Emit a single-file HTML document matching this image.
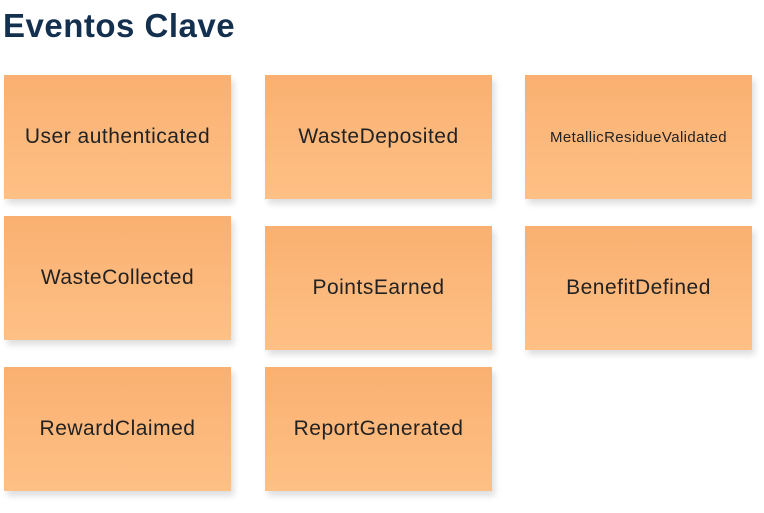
<!DOCTYPE html>
<html><head><meta charset="utf-8"><style>
html,body{margin:0;padding:0;background:#fff;width:764px;height:513px;overflow:hidden;font-family:"Liberation Sans",sans-serif}
h1{position:absolute;left:3px;top:7px;margin:0;font-size:33px;font-weight:bold;color:#14304f;letter-spacing:0.5px}
.note{position:absolute;width:227px;height:124px;background:linear-gradient(#fab071,#fec085);box-shadow:3px 5px 6px rgba(0,0,0,0.13);display:flex;align-items:center;justify-content:center;font-size:21px;letter-spacing:0.5px;color:#222;text-align:center}
.small{font-size:15px;letter-spacing:0.4px}
</style></head><body>
<h1>Eventos Clave</h1>
<div class="note" style="left:4px;top:75px">User authenticated</div>
<div class="note" style="left:265px;top:75px">WasteDeposited</div>
<div class="note small" style="left:525px;top:75px">MetallicResidueValidated</div>
<div class="note" style="left:4px;top:216px">WasteCollected</div>
<div class="note" style="left:265px;top:226px">PointsEarned</div>
<div class="note" style="left:525px;top:226px">BenefitDefined</div>
<div class="note" style="left:4px;top:367px">RewardClaimed</div>
<div class="note" style="left:265px;top:367px">ReportGenerated</div>
</body></html>
